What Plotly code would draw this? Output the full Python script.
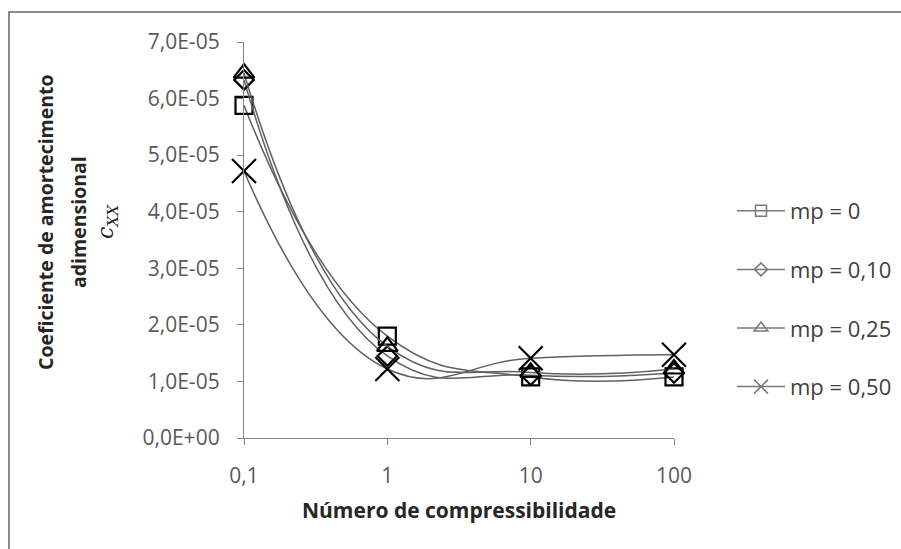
import plotly.graph_objects as go

categories = ["0,1", "1", "10", "100"]
series_names = ["mp = 0", "mp = 0,10", "mp = 0,25", "mp = 0,50"]
mp_000 = [5.88e-5, 1.80e-5, 1.08e-5, 1.08e-5]
mp_010 = [6.33e-5, 1.45e-5, 1.11e-5, 1.15e-5]
mp_025 = [6.45e-5, 1.62e-5, 1.16e-5, 1.22e-5]
mp_050 = [4.72e-5, 1.22e-5, 1.41e-5, 1.47e-5]
y_tickvals = [0, 1e-5, 2e-5, 3e-5, 4e-5, 5e-5, 6e-5, 7e-5]
y_ticktext = ["0,0E+00", "1,0E-05", "2,0E-05", "3,0E-05", "4,0E-05", "5,0E-05", "6,0E-05", "7,0E-05"]

series = [mp_000, mp_010, mp_025, mp_050]
symbols = ["square-open", "diamond-open", "triangle-up-open", "x-thin-open"]
sizes = [17, 15, 18, 24]
leg_sizes = [11, 10, 12, 14]

FONT = "Open Sans"
W, H = 901, 549
ML, MR, MT, MB = 244, 227, 42, 111
PW, PH = W - ML - MR, H - MT - MB

def px_x(p):
    return (p - ML) / PW

def px_y(p):
    return (H - MB - p) / PH

fig = go.Figure()
for name, vals, sym, s in zip(series_names, series, symbols, sizes):
    fig.add_trace(go.Scatter(
        x=categories, y=vals, mode="lines+markers", name=name, showlegend=False,
        cliponaxis=False,
        line=dict(color="#606060", width=1.5, shape="spline", smoothing=1.3),
        marker=dict(symbol=sym, size=s, color="#000000",
                    line=dict(color="#000000", width=2.2)),
    ))
for i, (name, sym, s) in enumerate(zip(series_names, symbols, leg_sizes)):
    fig.add_trace(go.Scatter(
        x=[None], y=[None], mode="lines+markers", name=name, legendgroup=f"g{i}",
        line=dict(color="#7a7a7a", width=1.5),
        marker=dict(symbol=sym, size=s, color="#7a7a7a",
                    line=dict(color="#7a7a7a", width=1.5)),
    ))

fig.update_layout(
    width=W, height=H,
    margin=dict(l=ML, r=MR, t=MT, b=MB, autoexpand=False),
    paper_bgcolor="white", plot_bgcolor="white",
    font=dict(family=FONT, color="#595959", size=21),
    showlegend=True,
    legend=dict(
        x=px_x(732), y=px_y(299), xanchor="left", yanchor="middle",
        font=dict(family=FONT, size=22, color="#404040"),
        tracegroupgap=27, itemwidth=48, bgcolor="rgba(0,0,0,0)",
    ),
    xaxis=dict(
        type="category", range=[0, 3], showgrid=False, zeroline=False,
        showline=True, linecolor="#868686", linewidth=1.3,
        ticks="outside", ticklen=6, tickcolor="#868686", tickwidth=1.3,
        tickfont=dict(family=FONT, size=21, color="#595959"),
        ticklabelstandoff=13,
    ),
    yaxis=dict(
        range=[0, 7e-5], tickvals=y_tickvals, ticktext=y_ticktext,
        showgrid=False, zeroline=False,
        showline=True, linecolor="#868686", linewidth=1.3,
        ticks="outside", ticklen=6, tickcolor="#868686", tickwidth=1.3,
        tickfont=dict(family=FONT, size=21, color="#595959"),
        ticklabelstandoff=13,
    ),
    shapes=[dict(
        type="rect", xref="paper", yref="paper",
        x0=px_x(9), y0=px_y(570), x1=px_x(920), y1=px_y(12),
        line=dict(color="#8c8c8c", width=2), fillcolor="rgba(0,0,0,0)", layer="below",
    )],
    annotations=[
        dict(text="<b>Número de compressibilidade</b>", xref="paper", yref="paper",
             x=px_x(459), y=px_y(510), showarrow=False, xanchor="center", yanchor="middle",
             font=dict(family=FONT, size=21, color="#262626")),
        dict(text="<b>Coeficiente de amortecimento</b>", xref="paper", yref="paper",
             x=px_x(45), y=px_y(222), showarrow=False, textangle=-90,
             xanchor="center", yanchor="middle",
             font=dict(family=FONT, size=19.5, color="#262626")),
        dict(text="<b>adimensional</b>", xref="paper", yref="paper",
             x=px_x(78), y=px_y(222), showarrow=False, textangle=-90,
             xanchor="center", yanchor="middle",
             font=dict(family=FONT, size=19.5, color="#262626")),
        dict(text="<i>c</i><sub><i>XX</i></sub>", xref="paper", yref="paper",
             x=px_x(107), y=px_y(222), showarrow=False, textangle=-90,
             xanchor="center", yanchor="middle",
             font=dict(family="DejaVu Serif", size=22, color="#262626")),
    ],
)

fig.write_html("out.html", config={"displayModeBar": False},
               post_script="document.body.style.margin='0';document.body.style.overflow='hidden';")
